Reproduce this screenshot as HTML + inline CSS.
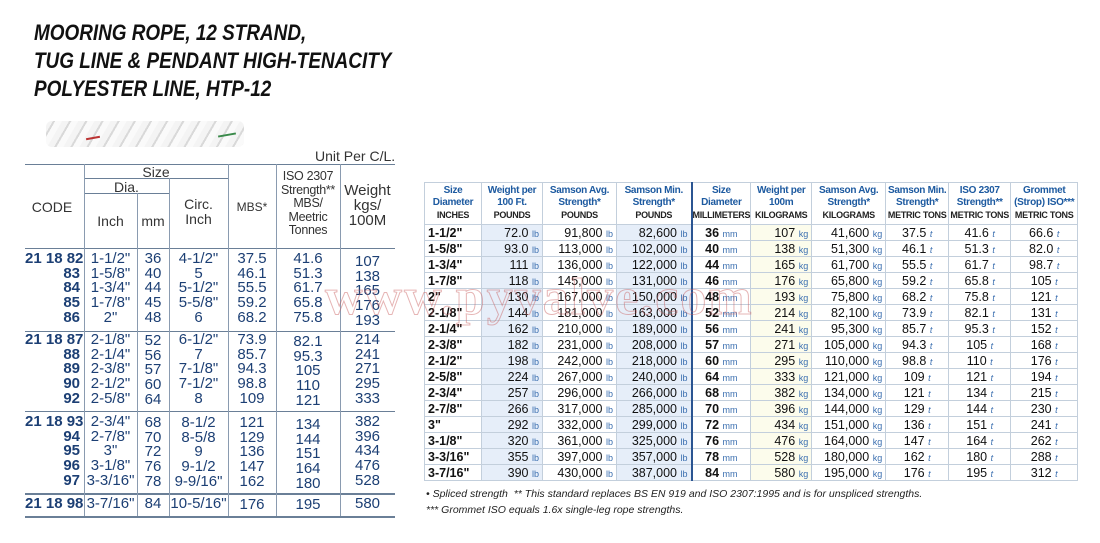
<!DOCTYPE html>
<html><head><meta charset="utf-8"><style>
*{margin:0;padding:0;box-sizing:border-box}
body{width:1100px;height:543px;background:#fff;position:relative;overflow:hidden;font-family:"Liberation Sans",sans-serif}
.a{position:absolute}
.t{position:absolute;left:34px;font-weight:bold;font-style:italic;font-size:22px;color:#111;transform-origin:0 0;transform:scaleX(0.86);white-space:nowrap}
.hl{position:absolute;height:1px;background:#6a7f97}
.vl{position:absolute;width:1px;background:#8a9bb0}
.c{position:absolute;color:#1c3f74;font-size:15px;line-height:14.7px;text-align:center;white-space:nowrap}
.h{position:absolute;color:#333;font-size:14px;line-height:14.5px;text-align:center;white-space:nowrap}
table{position:absolute;left:424px;top:182px;border-collapse:collapse;table-layout:fixed;border:1px solid #9fb2c8}
td{border:1px solid #c3cfdc;height:16px;font-size:12.5px;white-space:nowrap;padding:0 3px;text-align:right;color:#111;line-height:14px}
th{border:1px solid #c3cfdc;height:42px;font-size:10px;color:#1d5aa0;font-weight:bold;line-height:12px;text-align:center;letter-spacing:-0.3px}
th small{font-size:9px;color:#222}
td i{font-size:9px;line-height:1;color:#3b6fb0;font-style:normal}
td i.t2{font-style:italic}
td.s{text-align:left;font-weight:bold}
td.b{background:#e6eef9}
td.y{background:#fcfcec}
td.m{border-right:2px solid #2b5592}
td.cen{text-align:center}
.f{position:absolute;left:426px;font-size:10.5px;font-style:italic;color:#222;white-space:nowrap}
</style></head><body>
<div class="t" style="top:20px">MOORING ROPE, 12 STRAND,</div>
<div class="t" style="top:48px">TUG LINE &amp; PENDANT HIGH-TENACITY</div>
<div class="t" style="top:76px">POLYESTER LINE, HTP-12</div>
<div class="a" style="left:46px;top:121px;width:198px;height:26px;border-radius:6px;background:repeating-linear-gradient(120deg,#f4f4f4 0 6px,#d9d9d9 6px 8px,#fafafa 8px 14px),#eee"></div>
<div class="a" style="left:86px;top:137px;width:14px;height:2px;background:#b33;transform:rotate(-10deg)"></div>
<div class="a" style="left:218px;top:134px;width:18px;height:2px;background:#3a8a4a;transform:rotate(-10deg)"></div>

<div class="a" style="left:315px;top:148px;font-size:14px;color:#333">Unit Per C/L.</div>
<div class="hl" style="left:25px;top:164px;width:370px"></div>
<div class="hl" style="left:84px;top:178px;width:144px"></div>
<div class="hl" style="left:84px;top:193px;width:85px"></div>
<div class="hl" style="left:25px;top:248px;width:370px"></div>
<div class="hl" style="left:25px;top:331px;width:370px"></div>
<div class="hl" style="left:25px;top:411px;width:370px"></div>
<div class="hl" style="left:25px;top:493px;width:370px;height:2px"></div>
<div class="hl" style="left:25px;top:516px;width:370px;height:2px"></div>
<div class="vl" style="left:84px;top:164px;height:352px"></div>
<div class="vl" style="left:137px;top:193px;height:323px"></div>
<div class="vl" style="left:169px;top:178px;height:338px"></div>
<div class="vl" style="left:228px;top:164px;height:352px"></div>
<div class="vl" style="left:276px;top:164px;height:352px"></div>
<div class="vl" style="left:340px;top:164px;height:352px"></div>
<div class="h" style="left:84px;width:144px;top:165px">Size</div>
<div class="h" style="left:84px;width:85px;top:180px">Dia.</div>
<div class="h" style="left:25px;width:54px;top:200px">CODE</div>
<div class="h" style="left:84px;width:53px;top:214px">Inch</div>
<div class="h" style="left:137px;width:32px;top:214px">mm</div>
<div class="h" style="left:169px;width:59px;top:197px">Circ.<br>Inch</div>
<div class="h" style="left:228px;width:48px;top:200px;font-size:12px">MBS*</div>
<div class="h" style="left:276px;width:64px;top:170px;line-height:13.5px;font-size:12.5px;letter-spacing:-0.3px">ISO 2307<br>Strength**<br>MBS/<br>Meetric<br>Tonnes</div>
<div class="h" style="left:340px;width:55px;top:183px;font-size:15px;line-height:15px">Weight<br>kgs/<br>100M</div>
<div class="c" style="left:25px;width:55px;top:252px;text-align:right;font-weight:bold">21 18 82<br>83<br>84<br>85<br>86</div>
<div class="c" style="left:84px;width:53px;top:252px">1-1/2"<br>1-5/8"<br>1-3/4"<br>1-7/8"<br>2"</div>
<div class="c" style="left:137px;width:32px;top:252px">36<br>40<br>44<br>45<br>48</div>
<div class="c" style="left:169px;width:59px;top:252px">4-1/2"<br>5<br>5-1/2"<br>5-5/8"<br>6</div>
<div class="c" style="left:228px;width:48px;top:252px">37.5<br>46.1<br>55.5<br>59.2<br>68.2</div>
<div class="c" style="left:276px;width:64px;top:252px">41.6<br>51.3<br>61.7<br>65.8<br>75.8</div>
<div class="c" style="left:340px;width:55px;top:255px">107<br>138<br>165<br>176<br>193</div>

<div class="c" style="left:25px;width:55px;top:333px;text-align:right;font-weight:bold">21 18 87<br>88<br>89<br>90<br>92</div>
<div class="c" style="left:84px;width:53px;top:333px">2-1/8"<br>2-1/4"<br>2-3/8"<br>2-1/2"<br>2-5/8"</div>
<div class="c" style="left:137px;width:32px;top:334px">52<br>56<br>57<br>60<br>64</div>
<div class="c" style="left:169px;width:59px;top:333px">6-1/2"<br>7<br>7-1/8"<br>7-1/2"<br>8</div>
<div class="c" style="left:228px;width:48px;top:333px">73.9<br>85.7<br>94.3<br>98.8<br>109</div>
<div class="c" style="left:276px;width:64px;top:335px">82.1<br>95.3<br>105<br>110<br>121</div>
<div class="c" style="left:340px;width:55px;top:333px">214<br>241<br>271<br>295<br>333</div>

<div class="c" style="left:25px;width:55px;top:415px;text-align:right;font-weight:bold">21 18 93<br>94<br>95<br>96<br>97</div>
<div class="c" style="left:84px;width:53px;top:415px">2-3/4"<br>2-7/8"<br>3"<br>3-1/8"<br>3-3/16"</div>
<div class="c" style="left:137px;width:32px;top:416px">68<br>70<br>72<br>76<br>78</div>
<div class="c" style="left:169px;width:59px;top:416px">8-1/2<br>8-5/8<br>9<br>9-1/2<br>9-9/16"</div>
<div class="c" style="left:228px;width:48px;top:416px">121<br>129<br>136<br>147<br>162</div>
<div class="c" style="left:276px;width:64px;top:418px">134<br>144<br>151<br>164<br>180</div>
<div class="c" style="left:340px;width:55px;top:415px">382<br>396<br>434<br>476<br>528</div>

<div class="c" style="left:25px;width:55px;top:497px;text-align:right;font-weight:bold">21 18 98</div>
<div class="c" style="left:84px;width:53px;top:497px">3-7/16"</div>
<div class="c" style="left:137px;width:32px;top:497px">84</div>
<div class="c" style="left:169px;width:59px;top:497px">10-5/16"</div>
<div class="c" style="left:228px;width:48px;top:498px">176</div>
<div class="c" style="left:276px;width:64px;top:498px">195</div>
<div class="c" style="left:340px;width:55px;top:497px">580</div>

<table>
<colgroup><col style="width:57px"><col style="width:61px"><col style="width:74px"><col style="width:75px"><col style="width:59px"><col style="width:61px"><col style="width:74px"><col style="width:63px"><col style="width:62px"><col style="width:67px"></colgroup>
<tr><th>Size<br>Diameter<br><small>INCHES</small></th><th>Weight per<br>100 Ft.<br><small>POUNDS</small></th><th>Samson Avg.<br>Strength*<br><small>POUNDS</small></th><th style="border-right:2px solid #2b5592">Samson Min.<br>Strength*<br><small>POUNDS</small></th><th>Size<br>Diameter<br><small>MILLIMETERS</small></th><th>Weight per<br>100m<br><small>KILOGRAMS</small></th><th>Samson Avg.<br>Strength*<br><small>KILOGRAMS</small></th><th>Samson Min.<br>Strength*<br><small>METRIC TONS</small></th><th>ISO 2307<br>Strength**<br><small>METRIC TONS</small></th><th>Grommet<br>(Strop) ISO***<br><small>METRIC TONS</small></th></tr>
<tr><td class="s">1-1/2"</td><td class="b">72.0 <i>lb</i></td><td>91,800 <i>lb</i></td><td class="b m">82,600 <i>lb</i></td><td class="cen"><b>36</b> <i>mm</i></td><td class="y">107 <i>kg</i></td><td>41,600 <i>kg</i></td><td class="cen">37.5 <i class="t2">t</i></td><td class="cen">41.6 <i class="t2">t</i></td><td class="cen">66.6 <i class="t2">t</i></td></tr>
<tr><td class="s">1-5/8"</td><td class="b">93.0 <i>lb</i></td><td>113,000 <i>lb</i></td><td class="b m">102,000 <i>lb</i></td><td class="cen"><b>40</b> <i>mm</i></td><td class="y">138 <i>kg</i></td><td>51,300 <i>kg</i></td><td class="cen">46.1 <i class="t2">t</i></td><td class="cen">51.3 <i class="t2">t</i></td><td class="cen">82.0 <i class="t2">t</i></td></tr>
<tr><td class="s">1-3/4"</td><td class="b">111 <i>lb</i></td><td>136,000 <i>lb</i></td><td class="b m">122,000 <i>lb</i></td><td class="cen"><b>44</b> <i>mm</i></td><td class="y">165 <i>kg</i></td><td>61,700 <i>kg</i></td><td class="cen">55.5 <i class="t2">t</i></td><td class="cen">61.7 <i class="t2">t</i></td><td class="cen">98.7 <i class="t2">t</i></td></tr>
<tr><td class="s">1-7/8"</td><td class="b">118 <i>lb</i></td><td>145,000 <i>lb</i></td><td class="b m">131,000 <i>lb</i></td><td class="cen"><b>46</b> <i>mm</i></td><td class="y">176 <i>kg</i></td><td>65,800 <i>kg</i></td><td class="cen">59.2 <i class="t2">t</i></td><td class="cen">65.8 <i class="t2">t</i></td><td class="cen">105 <i class="t2">t</i></td></tr>
<tr><td class="s">2"</td><td class="b">130 <i>lb</i></td><td>167,000 <i>lb</i></td><td class="b m">150,000 <i>lb</i></td><td class="cen"><b>48</b> <i>mm</i></td><td class="y">193 <i>kg</i></td><td>75,800 <i>kg</i></td><td class="cen">68.2 <i class="t2">t</i></td><td class="cen">75.8 <i class="t2">t</i></td><td class="cen">121 <i class="t2">t</i></td></tr>
<tr><td class="s">2-1/8"</td><td class="b">144 <i>lb</i></td><td>181,000 <i>lb</i></td><td class="b m">163,000 <i>lb</i></td><td class="cen"><b>52</b> <i>mm</i></td><td class="y">214 <i>kg</i></td><td>82,100 <i>kg</i></td><td class="cen">73.9 <i class="t2">t</i></td><td class="cen">82.1 <i class="t2">t</i></td><td class="cen">131 <i class="t2">t</i></td></tr>
<tr><td class="s">2-1/4"</td><td class="b">162 <i>lb</i></td><td>210,000 <i>lb</i></td><td class="b m">189,000 <i>lb</i></td><td class="cen"><b>56</b> <i>mm</i></td><td class="y">241 <i>kg</i></td><td>95,300 <i>kg</i></td><td class="cen">85.7 <i class="t2">t</i></td><td class="cen">95.3 <i class="t2">t</i></td><td class="cen">152 <i class="t2">t</i></td></tr>
<tr><td class="s">2-3/8"</td><td class="b">182 <i>lb</i></td><td>231,000 <i>lb</i></td><td class="b m">208,000 <i>lb</i></td><td class="cen"><b>57</b> <i>mm</i></td><td class="y">271 <i>kg</i></td><td>105,000 <i>kg</i></td><td class="cen">94.3 <i class="t2">t</i></td><td class="cen">105 <i class="t2">t</i></td><td class="cen">168 <i class="t2">t</i></td></tr>
<tr><td class="s">2-1/2"</td><td class="b">198 <i>lb</i></td><td>242,000 <i>lb</i></td><td class="b m">218,000 <i>lb</i></td><td class="cen"><b>60</b> <i>mm</i></td><td class="y">295 <i>kg</i></td><td>110,000 <i>kg</i></td><td class="cen">98.8 <i class="t2">t</i></td><td class="cen">110 <i class="t2">t</i></td><td class="cen">176 <i class="t2">t</i></td></tr>
<tr><td class="s">2-5/8"</td><td class="b">224 <i>lb</i></td><td>267,000 <i>lb</i></td><td class="b m">240,000 <i>lb</i></td><td class="cen"><b>64</b> <i>mm</i></td><td class="y">333 <i>kg</i></td><td>121,000 <i>kg</i></td><td class="cen">109 <i class="t2">t</i></td><td class="cen">121 <i class="t2">t</i></td><td class="cen">194 <i class="t2">t</i></td></tr>
<tr><td class="s">2-3/4"</td><td class="b">257 <i>lb</i></td><td>296,000 <i>lb</i></td><td class="b m">266,000 <i>lb</i></td><td class="cen"><b>68</b> <i>mm</i></td><td class="y">382 <i>kg</i></td><td>134,000 <i>kg</i></td><td class="cen">121 <i class="t2">t</i></td><td class="cen">134 <i class="t2">t</i></td><td class="cen">215 <i class="t2">t</i></td></tr>
<tr><td class="s">2-7/8"</td><td class="b">266 <i>lb</i></td><td>317,000 <i>lb</i></td><td class="b m">285,000 <i>lb</i></td><td class="cen"><b>70</b> <i>mm</i></td><td class="y">396 <i>kg</i></td><td>144,000 <i>kg</i></td><td class="cen">129 <i class="t2">t</i></td><td class="cen">144 <i class="t2">t</i></td><td class="cen">230 <i class="t2">t</i></td></tr>
<tr><td class="s">3"</td><td class="b">292 <i>lb</i></td><td>332,000 <i>lb</i></td><td class="b m">299,000 <i>lb</i></td><td class="cen"><b>72</b> <i>mm</i></td><td class="y">434 <i>kg</i></td><td>151,000 <i>kg</i></td><td class="cen">136 <i class="t2">t</i></td><td class="cen">151 <i class="t2">t</i></td><td class="cen">241 <i class="t2">t</i></td></tr>
<tr><td class="s">3-1/8"</td><td class="b">320 <i>lb</i></td><td>361,000 <i>lb</i></td><td class="b m">325,000 <i>lb</i></td><td class="cen"><b>76</b> <i>mm</i></td><td class="y">476 <i>kg</i></td><td>164,000 <i>kg</i></td><td class="cen">147 <i class="t2">t</i></td><td class="cen">164 <i class="t2">t</i></td><td class="cen">262 <i class="t2">t</i></td></tr>
<tr><td class="s">3-3/16"</td><td class="b">355 <i>lb</i></td><td>397,000 <i>lb</i></td><td class="b m">357,000 <i>lb</i></td><td class="cen"><b>78</b> <i>mm</i></td><td class="y">528 <i>kg</i></td><td>180,000 <i>kg</i></td><td class="cen">162 <i class="t2">t</i></td><td class="cen">180 <i class="t2">t</i></td><td class="cen">288 <i class="t2">t</i></td></tr>
<tr><td class="s">3-7/16"</td><td class="b">390 <i>lb</i></td><td>430,000 <i>lb</i></td><td class="b m">387,000 <i>lb</i></td><td class="cen"><b>84</b> <i>mm</i></td><td class="y">580 <i>kg</i></td><td>195,000 <i>kg</i></td><td class="cen">176 <i class="t2">t</i></td><td class="cen">195 <i class="t2">t</i></td><td class="cen">312 <i class="t2">t</i></td></tr>
</table>
<div class="f" style="top:488px">• Spliced strength &nbsp;** This standard replaces BS EN 919 and ISO 2307:1995 and is for unspliced strengths.</div>
<div class="f" style="top:504px">*** Grommet ISO equals 1.6x single-leg rope strengths.</div>

<div class="a" style="left:325px;top:268px;font-family:'Liberation Serif',serif;font-size:52px;font-weight:bold;color:rgba(255,255,255,0);-webkit-text-stroke:1px rgba(200,90,90,0.45);letter-spacing:2px;white-space:nowrap">www.pyvalve.com</div>
</body></html>
